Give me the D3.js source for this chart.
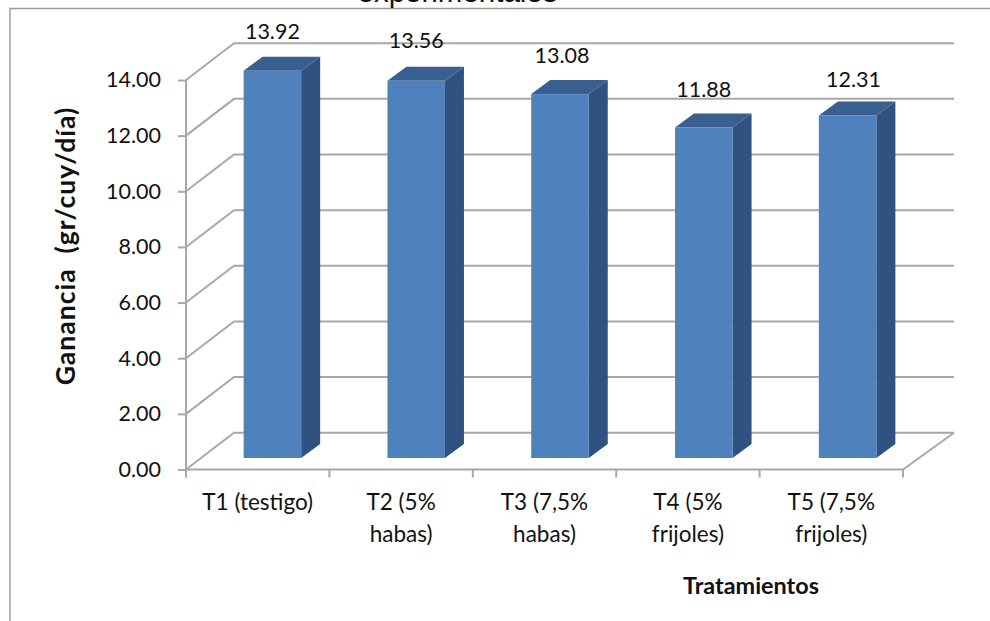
<!DOCTYPE html>
<html><head><meta charset="utf-8">
<script src="https://cdn.jsdelivr.net/npm/d3@7"></script>
<style>html,body{margin:0;padding:0;background:#fff}svg{display:block}text{font-family:Lato,sans-serif;fill:#111}</style>
</head><body><svg id="c" width="990" height="621"></svg>
<script>
const categories = [["T1 (testigo)"],["T2 (5%","habas)"],["T3 (7,5%","habas)"],["T4 (5%","frijoles)"],["T5 (7,5%","frijoles)"]];
const values = [13.92,13.56,13.08,11.88,12.31];
const yTicks = [0,2,4,6,8,10,12,14];
const title = "experimentales";
const yTitle = "Ganancia  (gr/cuy/día)";
const xTitle = "Tratamientos";

const svg = d3.select("#c");
const pLeft=186, pRight=903, pBottom=469.5, pTop=80;
const dx=48, dy=-36.8;           // depth of the 3D box
const bdx=19, bdy=-14;           // depth of one bar
const labelDx=[0,0,2,0,6], labelDy=[-18,-19,-17,-16,-15];   // hand placement of value labels
const y = d3.scaleLinear().domain([0,14]).range([pBottom,pTop]);
const x = d3.scaleBand().domain(categories.map((d,i)=>i)).range([pLeft+14.5,pRight+16.5]).paddingInner(0.6).paddingOuter(0.3);
const gridC="#a8a8a8";

// frame
svg.append("path").attr("d","M990 8.5H10V621").attr("fill","none").attr("stroke","#9a9a9a").attr("stroke-width",1.4);

// title, clipped by the top of the picture
svg.append("text").attr("x",457.5).attr("y",2).attr("text-anchor","middle")
  .style("font-family","'Liberation Sans'").style("font-size","29.5px").text(title);

// walls
const g = svg.append("g").attr("fill","none").attr("stroke",gridC).attr("stroke-width",2);
yTicks.forEach(t=>{
  g.append("path").attr("d",`M${pLeft} ${y(t)}L${pLeft+dx} ${y(t)+dy}H${pRight+dx+3}`);
});
g.append("path").attr("d",`M${pLeft} ${pBottom}H${pRight}L${pRight+dx+3} ${y(0)+dy}`);

// axes
const ax = svg.append("g").attr("transform",`translate(${pLeft},0)`)
  .call(d3.axisLeft(y).tickValues(yTicks).tickSize(8).tickPadding(17).tickFormat(d3.format(".2f")));
ax.select(".domain").attr("stroke",gridC).attr("stroke-width",2).attr("d",`M0 ${pTop}V${pBottom+8}`);
ax.selectAll(".tick line").attr("stroke",gridC).attr("stroke-width",2);
ax.selectAll("text").style("font-size","21.5px").style("font-family","Lato").attr("fill","#111");

const catStep=(pRight-pLeft)/categories.length;
d3.range(categories.length+1).forEach(i=>{
  svg.append("line").attr("x1",pLeft+i*catStep).attr("x2",pLeft+i*catStep).attr("y1",pBottom).attr("y2",pBottom+8)
    .attr("stroke",gridC).attr("stroke-width",2);
});

// bars
const barBase=y(0)-11.5;
const h=v=>y(0)-y(v);
const bars=svg.selectAll(".bar").data(values).join("g").attr("class","bar");
bars.each(function(v,i){
  const g=d3.select(this), x0=x(i), w=x.bandwidth(), yT=barBase-h(v);
  g.append("path").attr("fill","#2f5280").attr("d",`M${x0+w} ${yT}l${bdx} ${bdy}V${barBase+bdy}l${-bdx} ${-bdy}Z`);
  g.append("path").attr("fill","#385f90").attr("d",`M${x0} ${yT}l${bdx} ${bdy}h${w}l${-bdx} ${-bdy}Z`);
  g.append("rect").attr("x",x0).attr("y",yT).attr("width",w).attr("height",barBase-yT).attr("fill","#4f81bd");
  g.append("text").attr("x",x0+w/2+labelDx[i]).attr("y",yT+bdy+labelDy[i]).attr("text-anchor","middle")
    .style("font-size","21.5px").text(d3.format(".2f")(v));
});

// category labels
categories.forEach((lines,i)=>{
  const t=svg.append("text").attr("text-anchor","middle").style("font-size","22.5px");
  lines.forEach((s,k)=>t.append("tspan").attr("x",pLeft+(i+.5)*catStep).attr("y",510+k*32).text(s));
});

// axis titles
svg.append("text").attr("transform","translate(75,246) rotate(-90)").attr("text-anchor","middle")
  .style("font-size","26.5px").style("font-weight","700").style("letter-spacing","1px").style("white-space","pre").text(yTitle);
svg.append("text").attr("x",751).attr("y",594).attr("text-anchor","middle")
  .style("font-size","23.4px").style("font-weight","700").text(xTitle);
</script></body></html>
